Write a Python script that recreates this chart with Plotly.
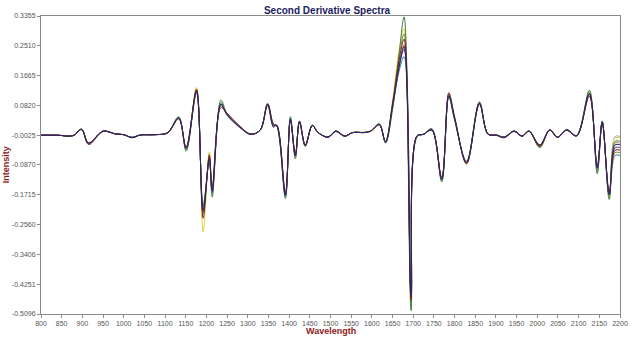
import plotly.graph_objects as go

# Wavelength positions (nm) at which the second-derivative values are sampled
wavelength = [800, 840, 877, 898, 915, 950, 980, 1000, 1020, 1040, 1075, 1106, 1133, 1151,
              1176, 1192, 1207, 1214, 1235, 1250, 1280, 1307, 1330, 1348, 1362, 1370, 1391,
              1403, 1415, 1425, 1439, 1456, 1470, 1494, 1513, 1534, 1554, 1582, 1597, 1618,
              1633, 1650, 1666, 1678, 1695, 1709, 1725, 1745, 1769, 1786, 1800, 1829, 1860,
              1881, 1901, 1920, 1944, 1963, 1980, 2006, 2030, 2049, 2071, 2095, 2126, 2145,
              2157, 2174, 2188, 2200]

spec_maroon = [-0.0025, -0.0025, -0.004, 0.013, -0.029, 0.008, 0.001, -0.001, -0.010, -0.002, -0.001, 0.004, 0.044, -0.036, 0.128, -0.238, -0.058, -0.150, 0.076, 0.060, 0.024, 0.001, 0.012, 0.082, 0.024, 0.026, -0.165, 0.040, -0.056, 0.034, -0.030, 0.024, 0.005, -0.009, 0.008, -0.006, 0.005, 0.005, 0.009, 0.026, -0.020, 0.085, 0.210, 0.270, -0.470, -0.004, 0.000, 0.014, -0.122, 0.118, 0.050, -0.084, 0.085, 0.001, -0.003, -0.010, 0.008, -0.006, 0.008, -0.034, 0.011, -0.009, 0.011, -0.005, 0.108, -0.090, 0.032, -0.162, -0.045, -0.045]
spec_green = [-0.0025, -0.0025, -0.004, 0.015, -0.024, 0.009, 0.001, -0.001, -0.009, -0.002, -0.001, 0.005, 0.050, -0.048, 0.118, -0.205, -0.075, -0.178, 0.097, 0.058, 0.021, 0.000, 0.012, 0.088, 0.030, 0.024, -0.182, 0.050, -0.070, 0.038, -0.034, 0.026, 0.005, -0.007, 0.010, -0.004, 0.005, 0.006, 0.010, 0.030, -0.025, 0.070, 0.230, 0.333, -0.500, -0.008, 0.000, 0.012, -0.135, 0.106, 0.040, -0.076, 0.092, 0.000, -0.002, -0.008, 0.010, -0.004, 0.010, -0.038, 0.014, -0.007, 0.014, -0.003, 0.125, -0.112, 0.038, -0.185, -0.020, -0.020]
spec_yellow = [-0.0025, -0.0025, -0.004, 0.013, -0.026, 0.008, 0.001, -0.001, -0.009, -0.002, -0.001, 0.004, 0.045, -0.038, 0.133, -0.276, -0.050, -0.155, 0.080, 0.056, 0.023, 0.001, 0.012, 0.080, 0.026, 0.025, -0.168, 0.044, -0.062, 0.036, -0.031, 0.025, 0.005, -0.008, 0.009, -0.005, 0.005, 0.005, 0.009, 0.027, -0.021, 0.095, 0.240, 0.300, -0.485, -0.005, 0.000, 0.013, -0.130, 0.112, 0.048, -0.082, 0.086, 0.001, -0.002, -0.009, 0.009, -0.005, 0.009, -0.036, 0.012, -0.008, 0.012, -0.004, 0.118, -0.100, 0.034, -0.180, -0.010, -0.010]
spec_teal = [-0.0025, -0.0025, -0.004, 0.014, -0.024, 0.009, 0.001, -0.001, -0.008, -0.002, -0.001, 0.004, 0.047, -0.043, 0.120, -0.200, -0.072, -0.168, 0.090, 0.054, 0.021, 0.000, 0.012, 0.086, 0.028, 0.024, -0.176, 0.046, -0.064, 0.037, -0.033, 0.026, 0.005, -0.008, 0.009, -0.005, 0.005, 0.005, 0.009, 0.029, -0.023, 0.075, 0.180, 0.220, -0.440, -0.006, 0.000, 0.016, -0.130, 0.108, 0.044, -0.079, 0.090, 0.000, -0.002, -0.008, 0.009, -0.005, 0.009, -0.032, 0.012, -0.008, 0.012, -0.004, 0.120, -0.105, 0.036, -0.175, -0.060, -0.060]
spec_olive = [-0.0025, -0.0025, -0.004, 0.014, -0.027, 0.009, 0.001, -0.001, -0.009, -0.002, -0.001, 0.004, 0.046, -0.041, 0.125, -0.225, -0.062, -0.158, 0.082, 0.057, 0.023, 0.000, 0.012, 0.083, 0.026, 0.025, -0.170, 0.043, -0.058, 0.035, -0.031, 0.025, 0.005, -0.008, 0.009, -0.005, 0.005, 0.005, 0.009, 0.028, -0.022, 0.090, 0.220, 0.285, -0.478, -0.005, 0.000, 0.013, -0.125, 0.114, 0.047, -0.083, 0.087, 0.001, -0.002, -0.009, 0.009, -0.005, 0.009, -0.035, 0.012, -0.008, 0.012, -0.004, 0.112, -0.098, 0.033, -0.172, -0.052, -0.052]
spec_purple = [-0.0025, -0.0025, -0.004, 0.014, -0.025, 0.009, 0.001, -0.001, -0.009, -0.002, -0.001, 0.004, 0.046, -0.039, 0.124, -0.220, -0.066, -0.163, 0.086, 0.056, 0.022, 0.000, 0.012, 0.086, 0.028, 0.024, -0.174, 0.043, -0.061, 0.036, -0.032, 0.025, 0.005, -0.008, 0.009, -0.005, 0.005, 0.005, 0.009, 0.028, -0.022, 0.082, 0.200, 0.240, -0.460, -0.005, 0.000, 0.012, -0.128, 0.110, 0.046, -0.080, 0.088, 0.000, -0.002, -0.008, 0.009, -0.005, 0.009, -0.031, 0.012, -0.008, 0.012, -0.004, 0.116, -0.096, 0.035, -0.172, -0.038, -0.038]
spec_pink = [-0.0025, -0.0025, -0.004, 0.014, -0.026, 0.009, 0.001, -0.001, -0.009, -0.002, -0.001, 0.004, 0.046, -0.040, 0.123, -0.218, -0.068, -0.162, 0.084, 0.056, 0.022, 0.000, 0.012, 0.084, 0.027, 0.024, -0.171, 0.042, -0.060, 0.036, -0.032, 0.025, 0.005, -0.008, 0.009, -0.005, 0.005, 0.005, 0.009, 0.028, -0.022, 0.080, 0.195, 0.255, -0.450, -0.005, 0.000, 0.012, -0.127, 0.111, 0.045, -0.080, 0.088, 0.000, -0.002, -0.008, 0.009, -0.005, 0.009, -0.030, 0.012, -0.008, 0.012, -0.004, 0.114, -0.095, 0.035, -0.170, -0.025, -0.025]
spec_lightblue = [-0.0025, -0.0025, -0.004, 0.014, -0.025, 0.009, 0.001, -0.001, -0.009, -0.002, -0.001, 0.004, 0.046, -0.041, 0.121, -0.212, -0.070, -0.161, 0.086, 0.055, 0.022, 0.000, 0.012, 0.085, 0.028, 0.024, -0.173, 0.043, -0.061, 0.036, -0.032, 0.025, 0.005, -0.008, 0.009, -0.005, 0.005, 0.005, 0.009, 0.028, -0.022, 0.078, 0.188, 0.245, -0.445, -0.005, 0.000, 0.012, -0.129, 0.109, 0.045, -0.080, 0.088, 0.000, -0.002, -0.008, 0.009, -0.005, 0.009, -0.030, 0.012, -0.008, 0.012, -0.004, 0.115, -0.096, 0.035, -0.171, -0.006, -0.006]
spec_navy = [-0.0025, -0.0025, -0.004, 0.014, -0.025, 0.009, 0.001, -0.001, -0.009, -0.002, -0.001, 0.004, 0.046, -0.040, 0.122, -0.215, -0.070, -0.160, 0.085, 0.055, 0.020, 0.000, 0.012, 0.085, 0.020, 0.026, -0.172, 0.042, -0.060, 0.036, -0.032, 0.025, 0.005, -0.008, 0.009, -0.005, 0.005, 0.005, 0.009, 0.028, -0.022, 0.080, 0.190, 0.250, -0.455, -0.005, 0.000, 0.012, -0.128, 0.110, 0.045, -0.080, 0.088, 0.000, -0.002, -0.008, 0.009, -0.005, 0.009, -0.030, 0.012, -0.008, 0.012, -0.004, 0.115, -0.095, 0.035, -0.170, -0.030, -0.030]

# Drawing order: coloured spectra first, navy on top
series = [
    (spec_lightblue, "#9aaed6"),
    (spec_pink, "#d98a8a"),
    (spec_teal, "#3a8c8c"),
    (spec_yellow, "#e3d13a"),
    (spec_olive, "#8a8a2a"),
    (spec_green, "#3f7f3f"),
    (spec_purple, "#6a3a8a"),
    (spec_maroon, "#7a1c1c"),
    (spec_navy, "#25256e"),
]

x_ticks = list(range(800, 2201, 50))
y_tick_labels = ["-0.5096", "-0.4251", "-0.3406", "-0.2560", "-0.1715", "-0.0870",
                 "-0.0025", "0.0820", "0.1665", "0.2510", "0.3355"]
y_tick_values = [float(v) for v in y_tick_labels]

fig = go.Figure()
for values, colour in series:
    fig.add_trace(go.Scatter(
        x=wavelength, y=values, mode="lines",
        line=dict(color=colour, width=1.0, shape="spline", smoothing=1.0),
        showlegend=False, hoverinfo="skip",
    ))

tick_font = dict(family="Liberation Sans, Arial, sans-serif", size=7, color="#555555")
fig.update_layout(
    width=640, height=339,
    margin=dict(l=35, r=20, t=16, b=22),
    paper_bgcolor="white", plot_bgcolor="white",
    title=dict(text="<b>Second Derivative Spectra</b>", x=0.511, xanchor="center",
               y=0.98, yanchor="top",
               font=dict(family="Liberation Sans, Arial, sans-serif", size=10, color="#1c1c5e")),
    xaxis=dict(range=[800, 2200], tickmode="array", tickvals=x_ticks,
               ticktext=[str(v) for v in x_ticks], tickfont=tick_font,
               showgrid=False, zeroline=False, showline=True, linecolor="#8a8a8a",
               linewidth=1, mirror=True, ticks="outside", ticklen=3, tickcolor="#8a8a8a"),
    yaxis=dict(range=[-0.5096, 0.3355], tickmode="array", tickvals=y_tick_values,
               ticktext=y_tick_labels, tickfont=tick_font,
               showgrid=False, zeroline=False, showline=True, linecolor="#8a8a8a",
               linewidth=1, mirror=True, ticks="outside", ticklen=3, tickcolor="#8a8a8a"),
    annotations=[
        dict(text="<b>Wavelength</b>", xref="paper", yref="paper", x=0.5, y=-0.057,
             xanchor="center", yanchor="middle", showarrow=False,
             font=dict(family="Liberation Sans, Arial, sans-serif", size=9, color="#8b1a1a")),
        dict(text="<b>Intensity</b>", xref="paper", yref="paper", x=-0.06, y=0.5,
             xanchor="center", yanchor="middle", showarrow=False, textangle=-90,
             font=dict(family="Liberation Sans, Arial, sans-serif", size=9, color="#8b1a1a")),
    ],
)

fig.write_html("out.html")
